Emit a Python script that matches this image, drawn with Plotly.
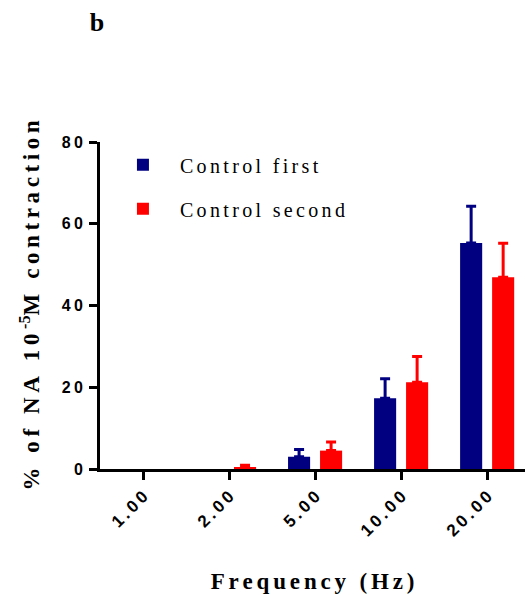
import plotly.graph_objects as go

categories = ["1.00", "2.00", "5.00", "10.00", "20.00"]
first_mean = [0, 0, 3.0, 17.3, 55.3]
first_err = [None, None, 1.8, 4.8, 9.0]
second_mean = [0, 0.3, 4.5, 21.2, 46.9]
second_err = [None, 0.6, 2.1, 6.3, 8.3]
series_names = ["Control first", "Control second"]
colors = ["#000080", "#FF0000"]
y_ticks = [0, 20, 40, 60, 80]

THIN = "\u2009"
SIX = "\u2006"


def spaced(s, sep=THIN):
    return sep.join(list(s))


serif = "Liberation Serif"
sans = "Liberation Sans"

fig = go.Figure()
for name, mean, err, col in [
    (series_names[0], first_mean, first_err, colors[0]),
    (series_names[1], second_mean, second_err, colors[1]),
]:
    # points with no measured response (no error value) have zero height
    keep = [i for i, e in enumerate(err) if e is not None]
    fig.add_trace(go.Bar(
        x=[categories[i] for i in keep], y=[mean[i] for i in keep],
        name=spaced(name, SIX), legendgroup=name,
        marker=dict(color=col, line=dict(width=0)),
        error_y=dict(type="data", symmetric=False, array=[err[i] for i in keep],
                     arrayminus=[0] * len(keep), color=col, thickness=3, width=5),
    ))

ytitle = spaced("% of NA 10") + THIN + "<sup>-5</sup>" + spaced("M contraction")
xtitle = spaced("Frequency (Hz)", SIX)

fig.update_layout(
    width=525, height=595,
    margin=dict(l=100, r=0, t=142, b=126),
    plot_bgcolor="white", paper_bgcolor="white",
    barmode="group", bargap=0.256, bargroupgap=0.31,
    title=dict(text="<b>b</b>", x=97 / 525, xanchor="center", y=1 - 22 / 595,
               yanchor="middle", font=dict(family=serif, size=26, color="black")),
    legend=dict(x=0.014, y=0.99, xanchor="left", yanchor="top",
                font=dict(family=serif, size=20, color="black"),
                itemwidth=64, tracegroupgap=15, bgcolor="rgba(0,0,0,0)"),
    xaxis=dict(
        type="category", categoryorder="array", categoryarray=categories,
        tickvals=categories, ticktext=[spaced(c) for c in categories],
        range=[-0.5, 4.44], showline=True, linecolor="black",
        linewidth=3, ticks="outside", ticklen=8, tickwidth=3, tickcolor="black",
        tickangle=-45, tickfont=dict(family=sans, size=17, color="black", weight="bold"),
        title=dict(text=xtitle,
                   font=dict(family=serif, size=23, color="black", weight="bold"),
                   standoff=34),
        automargin=False, showgrid=False, zeroline=False,
    ),
    yaxis=dict(
        range=[0, 80], tickvals=y_ticks, ticktext=[spaced(str(v)) for v in y_ticks],
        showline=True, linecolor="black",
        linewidth=3, ticks="outside", ticklen=8, tickwidth=3, tickcolor="black",
        tickfont=dict(family=sans, size=16, color="black", weight="bold"),
        ticklabelstandoff=3,
        title=dict(text=ytitle, font=dict(family=serif, size=23, color="black", weight="bold"),
                   standoff=16),
        automargin=False, showgrid=False, zeroline=False,
    ),
)

fig.write_html("out.html")
